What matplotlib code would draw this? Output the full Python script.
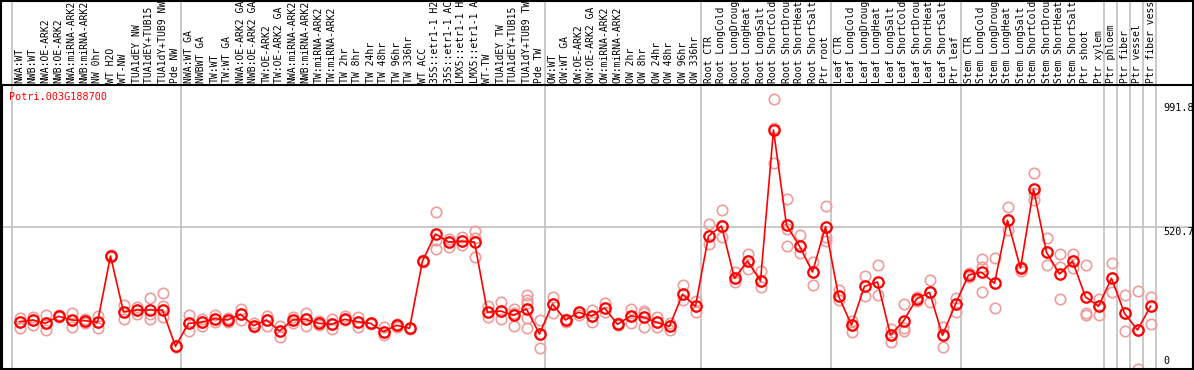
import matplotlib
matplotlib.use("Agg")
import matplotlib.pyplot as plt
import matplotlib.transforms as mtransforms
from matplotlib.patches import Rectangle

gene = "Potri.003G188700"

labels = [
    "NWA:WT", "NWB:WT", "NWA:OE-ARK2", "NWB:OE-ARK2", "NWA:miRNA-ARK2", "NWB:miRNA-ARK2",
    "NW 0hr", "WT H2O", "WT-NW", "TUA1dEY NW", "TUA1dEY+TUB15 NW", "TUA1dY+TUB9 NW", "Pde NW",
    "NWA:WT GA", "NWBWT GA", "TW:WT", "TW:WT GA", "NWA:OE-ARK2 GA", "NWB:OE-ARK2 GA",
    "TW:OE-ARK2", "TW:OE-ARK2 GA", "NWA:miRNA-ARK2", "NWB:miRNA-ARK2", "TW:miRNA-ARK2",
    "TW:miRNA-ARK2", "TW 2hr", "TW 8hr", "TW 24hr", "TW 48hr", "TW 96hr", "TW 336hr",
    "WT ACC", "35S::etr1-1 H2O", "35S::etr1-1 ACC", "LMX5::etr1-1 H2O", "LMX5::etr1-1 ACC",
    "WT-TW", "TUA1dEY TW", "TUA1dEY+TUB15 TW", "TUA1dY+TUB9 TW", "Pde TW",
    "OW:WT", "OW:WT GA", "OW:OE-ARK2", "OW:OE-ARK2 GA", "OW:miRNA-ARK2", "OW:miRNA-ARK2",
    "OW 2hr", "OW 8hr", "OW 24hr", "OW 48hr", "OW 96hr", "OW 336hr",
    "Root CTR", "Root LongCold", "Root LongDrought", "Root LongHeat", "Root LongSalt",
    "Root ShortCold", "Root ShortDrought", "Root ShortHeat", "Root ShortSalt", "Ptr root",
    "Leaf CTR", "Leaf LongCold", "Leaf LongDrought", "Leaf LongHeat", "Leaf LongSalt",
    "Leaf ShortCold", "Leaf ShortDrought", "Leaf ShortHeat", "Leaf ShortSalt", "Ptr leaf",
    "Stem CTR", "Stem LongCold", "Stem LongDrought", "Stem LongHeat", "Stem LongSalt",
    "Stem ShortCold", "Stem ShortDrought", "Stem ShortHeat", "Stem ShortSalt", "Ptr shoot",
    "Ptr xylem", "Ptr phloem", "Ptr fiber", "Ptr vessel", "Ptr fiber vessel",
]

# number of samples in each group (separators drawn between groups)
group_sizes = [13, 28, 12, 10, 10, 11, 1, 1, 1, 1]

means = [
    173.4, 179.7, 167.6, 193.3, 179.7, 177.1, 171.2, 414.4, 209.0, 216.4, 216.4, 216.4, 83.2,
    167.6, 171.2, 184.5, 179.7, 200.6, 158.8, 179.7, 139.3, 179.7, 182.2, 167.6, 163.9,
    182.2, 173.4, 167.6, 136.8, 160.2, 149.2, 396.0, 495.0, 465.7, 468.3, 465.7, 207.9,
    212.7, 196.9, 220.0, 128.3,
    238.4, 179.7, 207.9, 194.4, 223.7, 163.9, 194.4, 189.6, 171.2, 156.6, 273.9, 229.9,
    487.7, 524.4, 332.6, 396.0, 322.7, 876.4, 527.0, 451.0, 355.7, 521.8,
    267.7, 161.3, 303.3, 319.0, 124.7, 176.0, 256.7, 281.3, 123.6, 238.4,
    344.7, 354.6, 314.3, 545.3, 369.3, 659.0, 427.9, 348.4, 396.0, 264.0, 229.9,
    332.6, 204.3, 143.0, 229.9,
]

replicates = [
    [185.9, 149.2, 173.4], [189.6, 161.3, 179.7], [196.9, 141.9, 167.6], [196.9, 189.6, 193.3],
    [205.4, 154.0, 179.7], [182.2, 167.6, 177.1], [194.4, 149.2, 171.2], [419.1, 411.8, 414.4],
    [233.6, 182.2, 209.0], [228.5, 200.6, 216.4], [259.3, 184.5, 200.6], [277.6, 232.1, 189.6],
    [86.0, 83.2, 80.5],
    [196.9, 138.2, 167.6], [184.5, 157.7, 171.2], [199.1, 173.4, 184.5], [187.0, 172.3, 179.7],
    [221.1, 179.7, 200.6], [169.8, 155.1, 158.8], [194.4, 157.7, 179.7], [157.7, 118.4, 139.3],
    [189.6, 169.8, 179.7], [206.4, 158.8, 182.2], [176.0, 161.3, 167.6], [182.2, 145.6, 163.9],
    [193.3, 179.7, 182.2], [189.6, 155.1, 173.4], [170.0, 167.6, 165.0], [152.9, 124.7, 136.8],
    [163.9, 155.1, 160.2], [151.0, 149.2, 147.5], [398.0, 396.0, 394.0], [574.6, 471.9, 440.0],
    [475.6, 448.5, 465.7], [485.1, 453.6, 468.3], [507.1, 479.3, 411.8], [232.1, 189.6, 207.9],
    [245.7, 184.5, 212.7], [218.9, 158.8, 204.3], [271.4, 253.0, 240.9, 188.1, 149.2],
    [178.6, 75.9, 128.3],
    [262.9, 204.3, 238.4], [182.2, 173.4, 179.7], [210.1, 198.0, 207.9], [216.4, 173.4, 194.4],
    [240.9, 210.1, 223.7], [169.8, 161.3, 163.9], [220.0, 167.6, 194.4], [213.8, 152.9, 204.3],
    [189.6, 152.9, 171.2], [167.6, 143.0, 156.6], [306.9, 253.0, 273.9], [250.5, 210.1, 229.9],
    [532.8, 459.5, 487.7], [583.1, 482.9, 524.4], [354.6, 317.9, 332.6], [422.8, 365.6, 396.0],
    [359.4, 301.8, 322.7], [991.8, 882.6, 754.3], [622.3, 513.4, 451.0], [491.4, 424.3, 451.0],
    [393.5, 306.9, 355.7], [597.7, 485.1, 470.5],
    [289.7, 253.0, 267.7], [176.0, 134.6, 161.3], [341.8, 267.7, 303.3], [381.4, 271.4, 319.0],
    [145.6, 100.1, 124.7], [238.4, 149.2, 140.4], [250.5, 264.0, 256.7], [325.3, 244.6, 281.3],
    [155.1, 79.6, 123.6], [259.3, 207.9, 238.4],
    [338.5, 352.0, 344.7], [403.4, 375.1, 282.4], [405.9, 224.8, 314.3], [593.0, 509.7, 545.3],
    [375.1, 360.5, 369.3], [717.6, 644.3, 619.7], [480.8, 381.8, 427.9], [422.4, 375.1, 256.7],
    [421.7, 369.3, 396.0], [381.4, 204.3, 196.9], [256.7, 196.9, 229.9],
    [387.6, 281.3, 332.6], [270.3, 138.2, 204.3], [284.9, 1.1, 143.0], [262.9, 163.9, 229.9],
]

y_max_label = 991.8
y_mid_label = 520.7

W, H = 1194, 370
fig = plt.figure(figsize=(W / 100, H / 100), dpi=100)
ax_left, ax_right, ax_top, ax_bot = 1.5, 1193.0, 85.0, 369.0
ax = fig.add_axes([ax_left / W, (H - ax_bot) / H, (ax_right - ax_left) / W, (ax_bot - ax_top) / H])

n = len(labels)
xs = list(range(n))
px = 13.0
x0 = 19.5
ax.set_xlim((ax_left - x0) / px, (ax_right - x0) / px)
ax.set_ylim(0, y_max_label * 1.05)

grid_c = "#c0c0c0"
ax.axhline(y_mid_label, color=grid_c, lw=1.2, zorder=0)

# group separators (extend through the label area)
top_ext = ax_bot / (ax_bot - ax_top)
off = 8.0 / 13.0
bounds = [0]
for g in group_sizes:
    bounds.append(bounds[-1] + g)
for b in bounds:
    ax.plot([b - off, b - off], [0, top_ext], color=grid_c, lw=1.2,
            transform=mtransforms.blended_transform_factory(ax.transData, ax.transAxes),
            clip_on=False, zorder=0)

# replicate points
rx, ry = [], []
for i, reps in enumerate(replicates):
    for v in reps:
        rx.append(i)
        ry.append(v)
ax.plot(rx, ry, linestyle="none", marker="o", ms=7.5, mfc="none", mec="#ef9c9c", mew=1.2, zorder=2)

# mean line and points
ax.plot(xs, means, color="#ff0000", lw=1.2, zorder=3)
ax.plot(xs, means, linestyle="none", marker="o", ms=7.5, mfc="none", mec="#ff0000", mew=1.6, zorder=4)

ax.set_xticks([])
ax.set_yticks([])
for s in ["left", "bottom", "top", "right"]:
    ax.spines[s].set_linewidth(1.5)
    ax.spines[s].set_color("black")

mono = "DejaVu Sans Mono"
fs = 7.0
trans_lab = mtransforms.blended_transform_factory(ax.transData, ax.transAxes) + \
    mtransforms.ScaledTranslation(0, 2 / 100, fig.dpi_scale_trans)
for i, lab in enumerate(labels):
    ax.text(i, 1.0, lab, rotation=90, ha="center", va="bottom", fontsize=fs,
            family=mono, transform=trans_lab, clip_on=False)

fig.text(9 / W, 1 - 97 / H, gene, color="#ff0000", fontsize=7.3, family=mono,
         ha="left", va="center")

# right-side value labels
xlab = 1163 / W
def ypix(v):
    return ax_bot - v / (y_max_label * 1.05) * (ax_bot - ax_top)
fig.text(xlab, 1 - 103 / H, f"{y_max_label}", fontsize=7.3, family=mono, ha="left", va="top")
fig.text(xlab, 1 - (ypix(y_mid_label) + 0.5) / H, f"{y_mid_label}", fontsize=7.3, family=mono, ha="left", va="top")
fig.text(xlab, 1 - 366 / H, "0", fontsize=7.3, family=mono, ha="left", va="bottom")

# outer frame
fig.patches.append(Rectangle((0.0008, 0.001), 0.9984, 0.997, transform=fig.transFigure,
                             fill=False, ec="black", lw=1.5))

fig.savefig("out.png", dpi=100)
